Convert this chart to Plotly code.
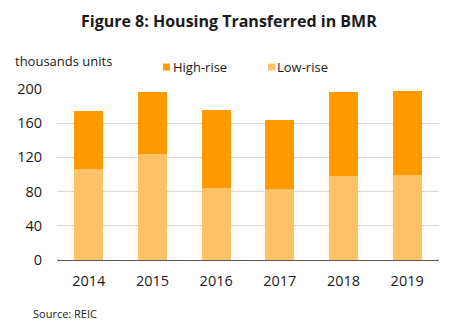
import plotly.graph_objects as go

years = ["2014", "2015", "2016", "2017", "2018", "2019"]
low_rise = [106, 124, 84, 83, 98, 100]
high_rise = [68, 73, 92, 81, 99, 98]
y_ticks = [0, 40, 80, 120, 160, 200]

HIGH_COLOR = "#FF9B00"
LOW_COLOR = "#FFC266"
FONT = "Open Sans"
TEXT = "#1a1a1a"

fig = go.Figure()
fig.add_trace(go.Bar(x=years, y=low_rise, name="Low-rise", marker_color=LOW_COLOR,
                     marker_line_width=0))
fig.add_trace(go.Bar(x=years, y=high_rise, name="High-rise", marker_color=HIGH_COLOR,
                     marker_line_width=0))

W, H = 458, 328
ml, mr, mt, mb = 57, 19, 89, 68

fig.update_layout(
    width=W, height=H,
    margin=dict(l=ml, r=mr, t=mt, b=mb),
    barmode="stack", bargap=0.545,
    plot_bgcolor="white", paper_bgcolor="white",
    showlegend=False,
    font=dict(family=FONT, color=TEXT, size=14),
    xaxis=dict(showgrid=False, showline=True, linecolor="#595959", linewidth=1,
               ticks="", tickfont=dict(size=14.5), ticklabelstandoff=8),
    yaxis=dict(range=[0, 200], tickvals=y_ticks, showgrid=True, gridcolor="#D9D9D9",
               gridwidth=1, zeroline=False, showline=False, ticks="",
               tickfont=dict(size=14.5), ticklabelstandoff=14),
)

def px_x(p):
    return (p - ml) / (W - ml - mr)

def px_y(p):
    return (H - mb - p) / (H - mt - mb)

annotations = [
    dict(text="<b>Figure 8: Housing Transferred in BMR</b>", x=229, y=21, font=dict(size=16)),
    dict(text="thousands units", x=63, y=61, font=dict(size=13)),
    dict(text="High-rise", x=200, y=67, font=dict(size=13)),
    dict(text="Low-rise", x=302, y=67, font=dict(size=13)),
    dict(text="Source: REIC", x=64.5, y=313, font=dict(size=11)),
]
for a in annotations:
    fig.add_annotation(text=a["text"], xref="paper", yref="paper",
                       x=px_x(a["x"]), y=px_y(a["y"]), xanchor="center", yanchor="middle",
                       showarrow=False, font=dict(family=FONT, color=TEXT, **a["font"]))

for x0, color in [(163, HIGH_COLOR), (268, LOW_COLOR)]:
    fig.add_shape(type="rect", xref="paper", yref="paper",
                  x0=px_x(x0), x1=px_x(x0 + 7), y0=px_y(63.5), y1=px_y(70.5),
                  fillcolor=color, line_width=0)

fig.write_html("out.html")
